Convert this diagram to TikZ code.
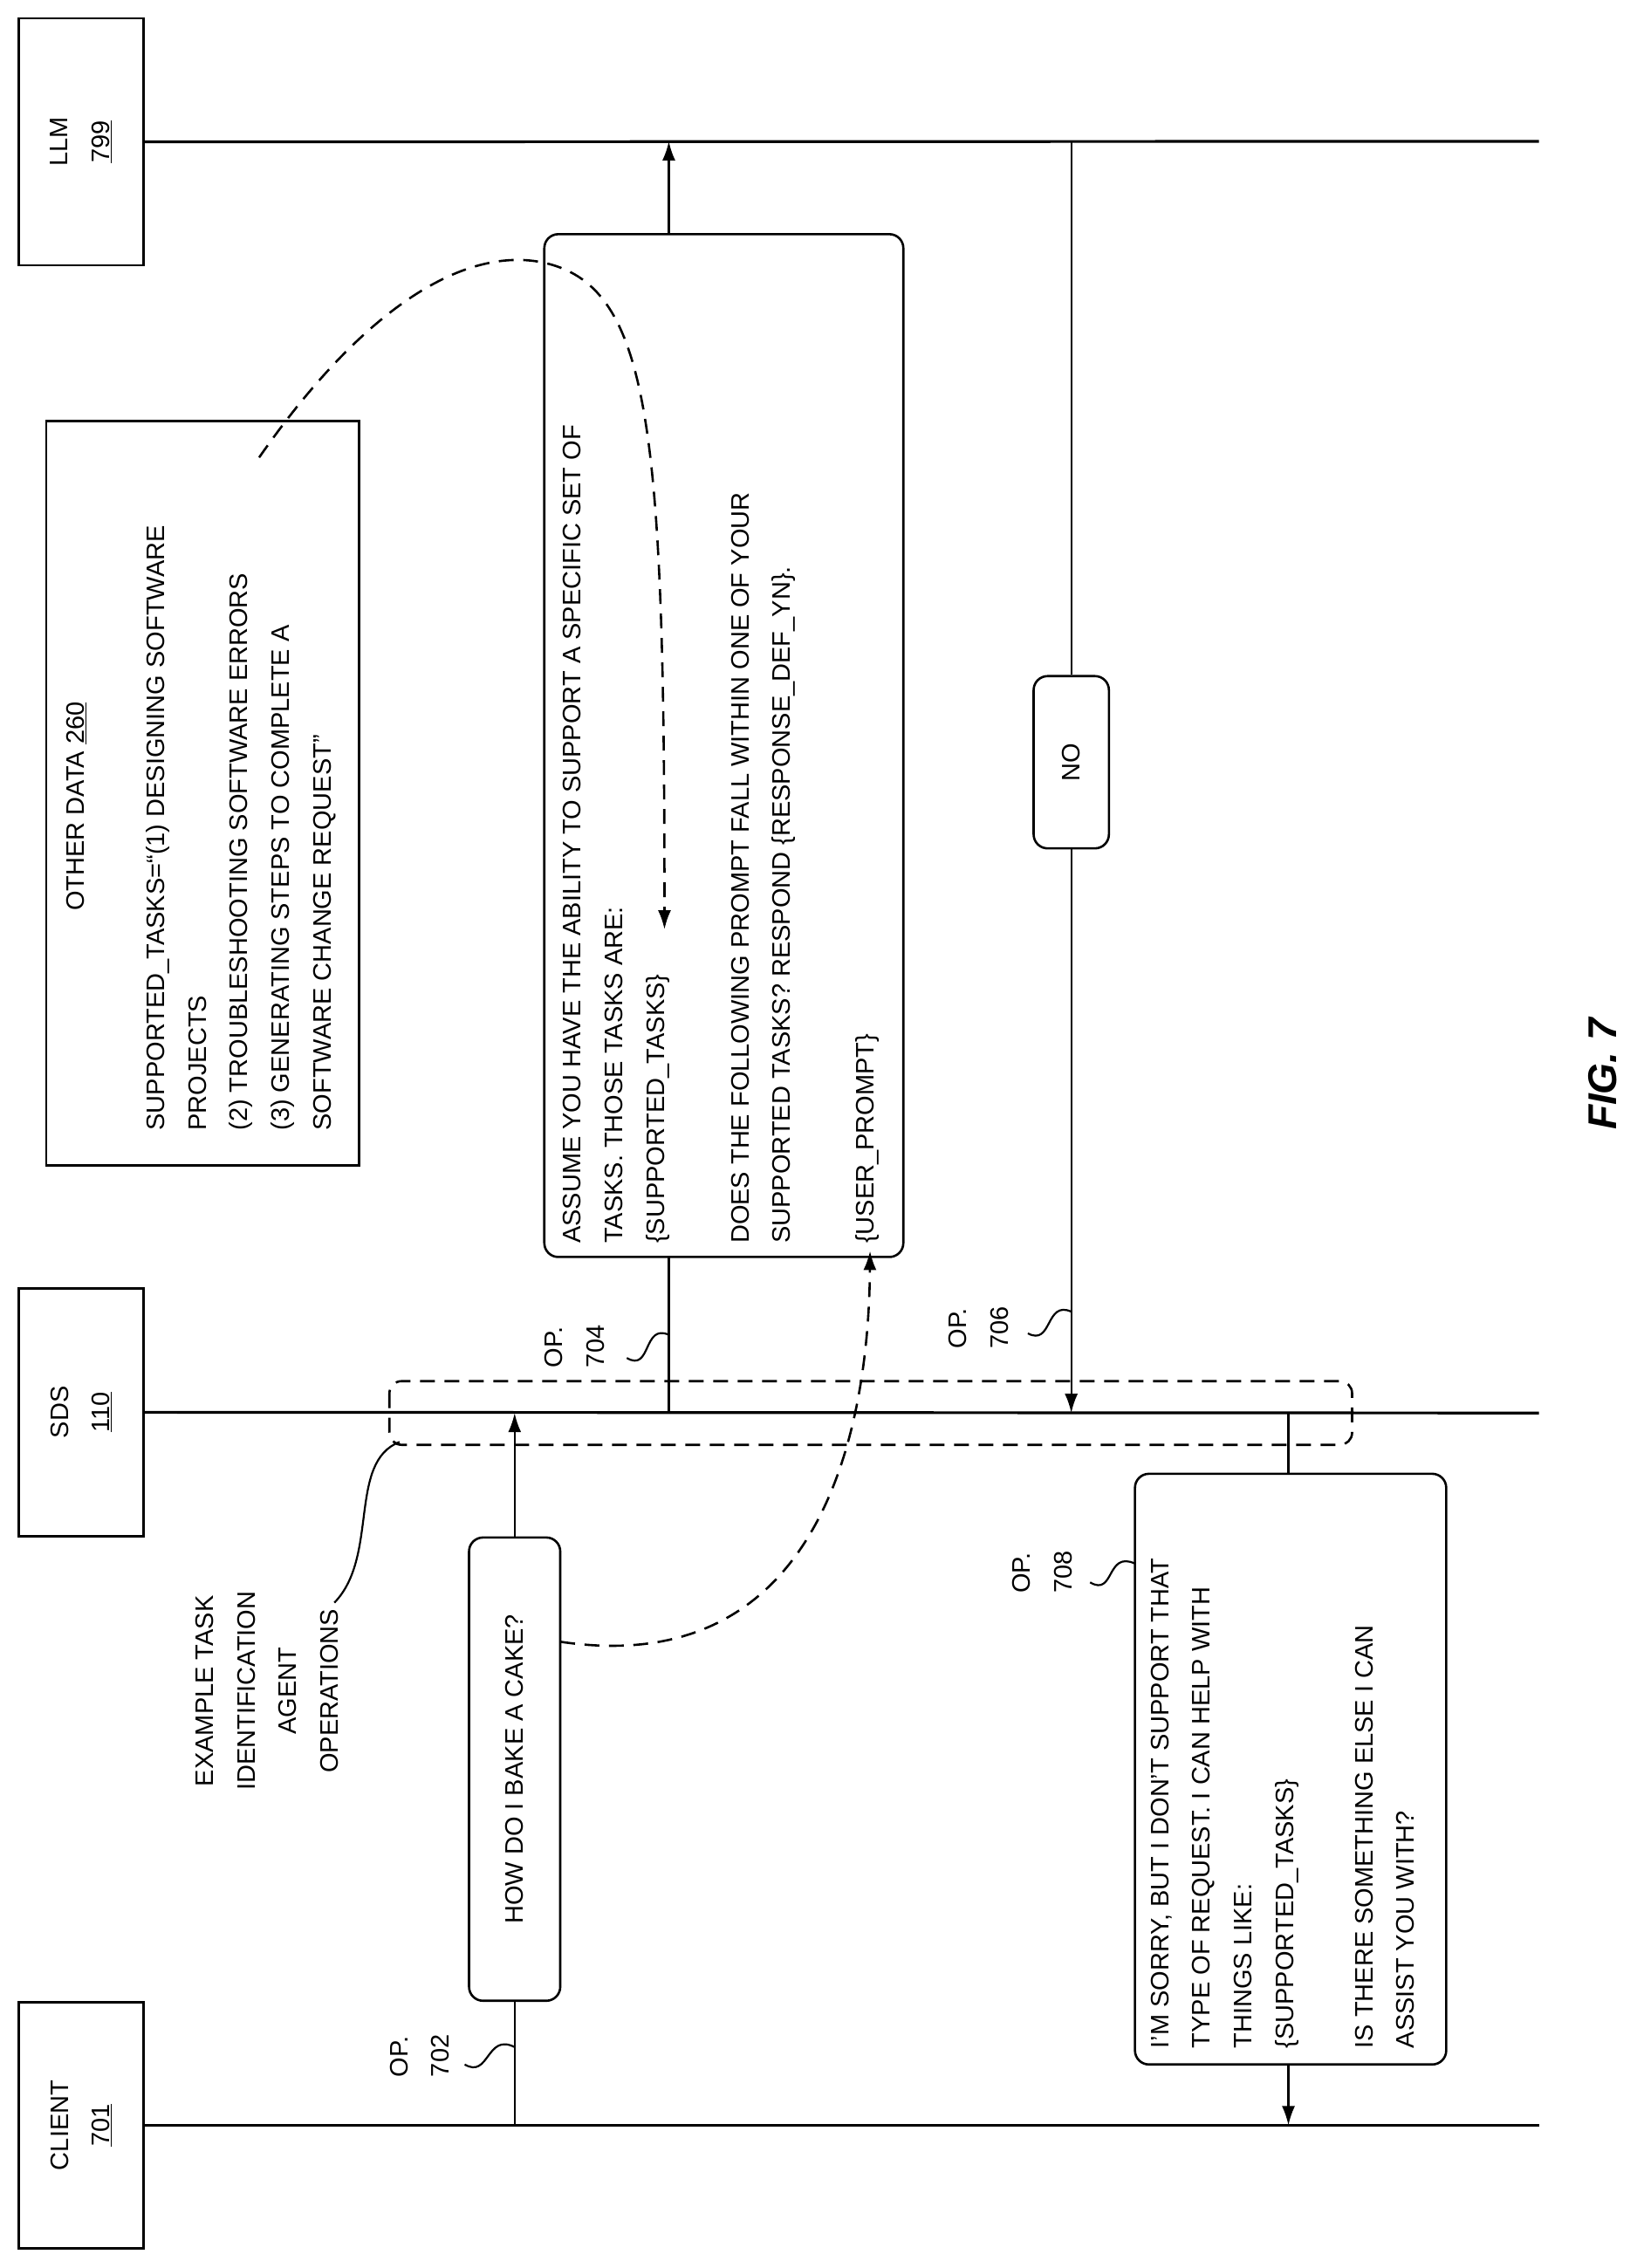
\documentclass[tikz,border=0pt]{standalone}
\usepackage{fontspec}
\setmainfont{Liberation Sans}
\usetikzlibrary{arrows.meta}
\begin{document}
\begin{tikzpicture}[x=1.659pt,y=-1.659pt,
  font=\fontsize{29}{47.6}\selectfont,
  box/.style={draw,line width=2.6pt,inner sep=0pt},
  rbox/.style={box,rounded corners=16pt},
  txt/.style={rotate=90,inner sep=0pt,align=left},
  life/.style={line width=3.2pt},
  msg/.style={line width=2.2pt},
  tip/.style={-{Latex[length=22pt,width=15pt]}},
  dsh/.style={line width=2.6pt,dash pattern=on 17pt off 11pt},
  sq/.style={line width=2.2pt}]
\useasboundingbox (0,0) rectangle (1130.2,1566.6);
\fill[white] (0,0) rectangle (1130.2,1566.6);
% lifeline boxes
\node[box,minimum width=86*1.659pt,minimum height=170.5*1.659pt] (llm) at (56,98) {};
\node[rotate=90,align=center,inner sep=0pt] (llmt) at (56,98) {LLM\\\underline{799}};
\node[box,minimum width=86*1.659pt,minimum height=171*1.659pt] (sds) at (56,975.5) {};
\node[rotate=90,align=center,inner sep=0pt] (sdst) at (56,975.5) {SDS\\\underline{110}};
\node[box,minimum width=86*1.659pt,minimum height=170*1.659pt] (cli) at (56,1468) {};
\node[rotate=90,align=center,inner sep=0pt] (clit) at (56,1468) {CLIENT\\\underline{701}};
% lifelines
\coordinate (llmE) at (1063,97.6);
\coordinate (sdsE) at (1063,976);
\coordinate (cliE) at (1063,1468);
\draw[life] (llm.east) -- (llmE);
\draw[life] (sds.east) -- (sdsE);
\draw[life] (cli.east) -- (cliE);
% other data
\node[box,minimum width=216*1.659pt,minimum height=514*1.659pt] (od) at (140,548) {};
\node[rotate=90,inner sep=0pt] (odt) at (53,557) {OTHER DATA \underline{260}};
\node[txt,anchor=north west] (odl) at (101,781) {SUPPORTED\_TASKS=“(1) DESIGNING SOFTWARE\\PROJECTS\\(2) TROUBLESHOOTING SOFTWARE ERRORS\\(3) GENERATING STEPS TO COMPLETE A\\SOFTWARE CHANGE REQUEST”};
% prompt box
\node[rbox,minimum width=248*1.659pt,minimum height=706.5*1.659pt] (pr) at (500,515) {};
\node[txt,anchor=north west] (pr1) at (389,859) {ASSUME YOU HAVE THE ABILITY TO SUPPORT A SPECIFIC SET OF\\TASKS. THOSE TASKS ARE:\\\{SUPPORTED\_TASKS\}};
\node[txt,anchor=north west] (pr2) at (505,859) {DOES THE FOLLOWING PROMPT FALL WITHIN ONE OF YOUR\\SUPPORTED TASKS? RESPOND \{RESPONSE\_DEF\_YN\}.};
\node[txt,anchor=north west] (pr3) at (591,859) {\{USER\_PROMPT\}};
% NO box
\node[rbox,minimum width=52*1.659pt,minimum height=119*1.659pt] (no) at (740,526.5) {};
\node[rotate=90,inner sep=0pt] at (740,526.5) {NO};
% bake box
\node[rbox,minimum width=63*1.659pt,minimum height=320*1.659pt] (bk) at (355.5,1222) {};
\node[rotate=90,inner sep=0pt] at (355.5,1222) {HOW DO I BAKE A CAKE?};
% response box
\node[rbox,minimum width=215*1.659pt,minimum height=408*1.659pt] (rs) at (891.5,1222) {};
\node[txt,anchor=north west] (rs1) at (795,1415) {I'M SORRY, BUT I DON'T SUPPORT THAT\\TYPE OF REQUEST. I CAN HELP WITH\\THINGS LIKE:\\\{SUPPORTED\_TASKS\}};
\node[txt,anchor=north west] (rs2) at (936,1415) {IS THERE SOMETHING ELSE I CAN\\ASSIST YOU WITH?};
% messages
\coordinate (a1) at (462,976); \coordinate (a1b) at (462,868); \coordinate (a1t) at (462,161.5); \coordinate (a1e) at (462,97.6);
\draw[msg] (a1) -- (a1b);
\draw[msg,tip] (a1t) -- (a1e);
\coordinate (b1) at (740,97.6); \coordinate (b1e) at (740,976);
\draw[msg] (b1) -- (no.north);
\draw[msg,tip] (no.south) -- (b1e);
\coordinate (c1) at (355.5,1468); \coordinate (c1e) at (355.5,976);
\draw[msg] (c1) -- (bk.south);
\draw[msg,tip] (bk.north) -- (c1e);
\coordinate (d1) at (890,976); \coordinate (d1e) at (890,1468);
\draw[msg] (d1) -- (890,1018);
\draw[msg,tip] (890,1426) -- (d1e);
% dashed group
\draw[dsh,rounded corners=14pt] (269,954) rectangle (934,998);
\node[rotate=90,align=center,inner sep=0pt,anchor=north] (ex) at (135,1168) {EXAMPLE TASK\\IDENTIFICATION\\AGENT\\OPERATIONS};
\coordinate (exl) at (231,1107);
\draw[sq] (exl) .. controls (262,1075) and (240,1010) .. (276,996);
% op labels
\node[rotate=90,align=left,inner sep=0pt] (op702) at (290,1420) {OP.\\702};
\draw[sq] (321,1426) .. controls (338,1436) and (336,1404) .. (355.5,1414);
\node[rotate=90,align=left,inner sep=0pt] (op704) at (397,930) {OP.\\704};
\draw[sq] (433,938) .. controls (450,948) and (444,914) .. (462,922);
\node[rotate=90,align=left,inner sep=0pt] (op706) at (676,917) {OP.\\706};
\draw[sq] (710,921) .. controls (727,930) and (722,898) .. (740,906);
\node[rotate=90,align=left,inner sep=0pt] (op708) at (720,1086) {OP.\\708};
\draw[sq] (753,1093) .. controls (770,1103) and (764,1071) .. (784,1080);
% dashed reference curves
\coordinate (s1) at (179,316); \coordinate (e1) at (459,642);
\draw[dsh,tip] (s1) .. controls (260,200) and (330,170) .. (378,182) .. controls (450,200) and (459,300) .. (e1);
\coordinate (s2) at (387,1134); \coordinate (e2) at (601,864);
\draw[dsh,tip] (s2) .. controls (560,1160) and (600,1000) .. (e2);
% figure label
\node[rotate=90,inner sep=0pt,font=\fontsize{46}{50}\selectfont\bfseries\itshape] (fig) at (1107,742) {FIG. 7};
\end{tikzpicture}
\end{document}
